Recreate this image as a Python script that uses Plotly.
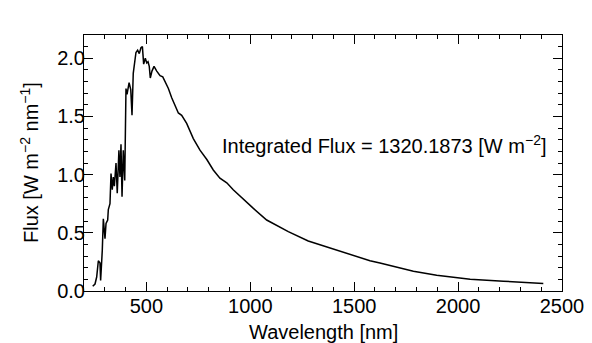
import plotly.graph_objects as go

# spectrum
wavelength = [
    242, 253, 261, 269, 277, 280, 288, 293, 301, 306, 314, 317, 325, 330,
    336, 341, 346, 354, 360, 368, 373, 378, 383, 389, 396, 402, 407, 417,
    425, 431, 437, 445, 450, 458, 466, 474, 481, 487, 495, 502, 508, 514,
    519, 527, 537, 550, 566, 579, 591, 606, 622, 638, 654, 670, 694, 726,
    758, 791, 822, 854, 887, 918, 959, 1015, 1079, 1183, 1279, 1384, 1456,
    1528, 1576, 1624, 1672, 1785, 1897, 2058, 2218, 2410,
]
flux = [
    0.04, 0.06, 0.12, 0.26, 0.24, 0.09, 0.35, 0.62, 0.45, 0.58, 0.61, 0.70,
    0.75, 1.01, 0.87, 0.98, 0.90, 1.10, 0.84, 1.21, 0.98, 1.26, 0.81, 1.21,
    0.95, 1.74, 1.69, 1.79, 1.73, 1.51, 1.87, 1.96, 2.05, 2.07, 2.04, 2.09,
    2.10, 1.95, 2.00, 1.96, 1.97, 1.93, 1.83, 1.89, 1.93, 1.89, 1.85, 1.84,
    1.80, 1.74, 1.66, 1.60, 1.53, 1.51, 1.44, 1.31, 1.21, 1.13, 1.04, 0.97,
    0.93, 0.87, 0.80, 0.71, 0.61, 0.51, 0.43, 0.37, 0.33, 0.29, 0.26, 0.24,
    0.22, 0.17, 0.135, 0.10, 0.084, 0.064,
]
integrated_flux = 1320.1873

x_ticks = [500, 1000, 1500, 2000, 2500]
y_ticks = [0.0, 0.5, 1.0, 1.5, 2.0]

x_title = 'Wavelength [nm]'
y_title = 'Flux [W m<sup>−2</sup> nm<sup>−1</sup>]'

FONT = 'Liberation Sans, Arial, Helvetica, sans-serif'
FONT_SIZE = 20


def axis_params(rng, ticks, minor_dtick, fmt, standoff):
    return dict(
        range=rng,
        automargin=False,
        tickmode='array',
        tickvals=ticks,
        ticktext=[fmt.format(t) for t in ticks],
        ticks='inside',
        ticklen=9,
        tickwidth=1,
        tickcolor='#000000',
        ticklabelstandoff=standoff,
        tickfont=dict(size=FONT_SIZE, color='#000000'),
        minor=dict(dtick=minor_dtick, ticks='inside', ticklen=4,
                   tickwidth=1, tickcolor='#000000'),
        showline=True,
        linecolor='#000000',
        linewidth=1,
        mirror='ticks',
        showgrid=False,
        zeroline=False,
    )


fig = go.Figure()
fig.add_trace(
    go.Scatter(
        x=wavelength,
        y=flux,
        mode='lines',
        line=dict(color='#000000', width=1.5),
        showlegend=False,
    )
)

label_font = dict(size=FONT_SIZE, color='#000000')

fig.add_annotation(
    x=2433, y=1.26, xref='x', yref='y',
    xanchor='right', yanchor='middle', showarrow=False,
    text='Integrated Flux = %.4f [W m<sup>−2</sup>]' % integrated_flux,
    font=label_font,
)
# axis titles placed as annotations so they sit where the reference has them
fig.add_annotation(
    x=0.5, y=0, xref='paper', yref='paper',
    xanchor='center', yanchor='middle', yshift=-41, showarrow=False,
    text=x_title, font=label_font,
)
fig.add_annotation(
    x=0, y=0.5, xref='paper', yref='paper',
    xanchor='center', yanchor='middle', xshift=-55, textangle=-90,
    showarrow=False, text=y_title, font=label_font,
)

# the page body adds an 8px offset, so the figure is 8px smaller each way
fig.update_layout(
    width=584,
    height=335,
    template='plotly_white',
    paper_bgcolor='#ffffff',
    plot_bgcolor='#ffffff',
    font=dict(family=FONT, color='#000000'),
    margin=dict(l=76, r=30, t=27, b=52, pad=0),
    xaxis=axis_params([200, 2500], x_ticks, 100, '{:.0f}', -3),
    yaxis=axis_params([0, 2.2], y_ticks, 0.1, '{:.1f}', -6),
)

fig.write_html('out.html')
